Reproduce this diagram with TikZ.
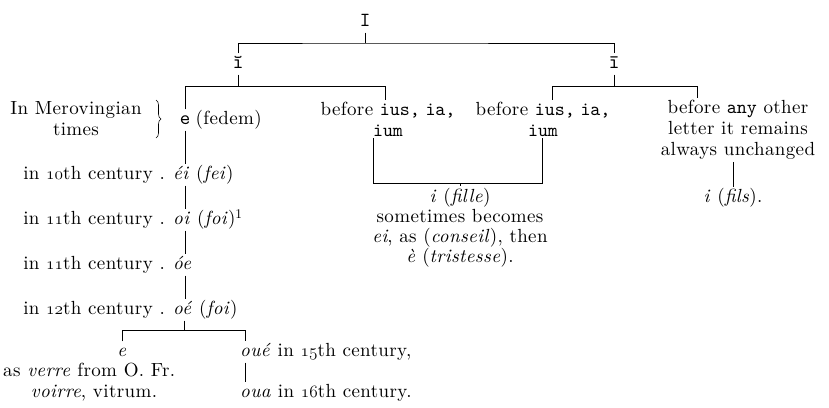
\documentclass[tikz,border=0pt]{standalone}
\usepackage{fontspec}
\setmainfont{lmroman10-regular}[Extension=.otf, ItalicFont=lmroman10-italic, BoldFont=lmroman10-bold, LetterSpace=2]
\setmonofont{lmmono10-regular}[Extension=.otf]
\usetikzlibrary{decorations.pathreplacing}
\newcommand\osn[1]{{\fontencoding{OML}\fontfamily{cmm}\fontseries{m}\fontshape{it}\selectfont #1}}
\newcommand\mt[1]{{\ttfamily #1}}
\begin{document}
\begin{tikzpicture}[x=1pt,y=-1pt,
  tx/.style={font=\fontsize{19}{21}\selectfont, inner sep=2pt, text height=13pt, text depth=4pt},
  ml/.style={font=\fontsize{19}{21}\selectfont, inner sep=2pt, align=center},
  mono/.style={tx, font=\fontsize{20}{21}\selectfont\ttfamily},
  ln/.style={draw, line width=0.6pt},
  brc/.style={draw, line width=0.6pt, decorate, decoration={brace, amplitude=5pt}}]
\useasboundingbox (0,0) rectangle (829,407);

% top level
\node[mono] (I) at (365,22) {I};
\node[mono] (i1) at (238,64) {ĭ};
\node[mono] (i2) at (614,64) {ī};
\coordinate (T) at (365,43);
\draw[ln] (I.south) -- (T);
\draw[ln] (i1.north) |- (T) -| (i2.north);

% second level, left
\node[mono] (e0) at (185,120) {e};
\node[tx, anchor=west] (fed) at ([xshift=1pt]e0.east) {(fedem)};
\node[ml] (b1) at (388,119) {before \mt{ius,}\hspace{0.3em}\mt{ia,}\\\mt{ium}};
\coordinate (L2a) at (185,86);
\coordinate (L2t) at (238,86);
\coordinate (L2b) at (385,86);
\draw[ln] (i1.south) -- (L2t);
\draw[ln] (e0.north) -- (L2a) -- (L2b) -- (L2b |- b1.north);

% second level, right
\node[ml] (b2) at (543,119) {before \mt{ius,}\hspace{0.3em}\mt{ia,}\\\mt{ium}};
\node[ml] (b3) at (738,130) {before \mt{any} other\\letter it remains\\always unchanged};
\coordinate (R2a) at (552,86);
\coordinate (R2t) at (614,86);
\coordinate (R2b) at (697,86);
\draw[ln] (i2.south) -- (R2t);
\draw[ln] (R2a |- b2.north) -- (R2a) -- (R2b) -- (R2b |- b3.north);

% Merovingian
\node[ml] (mer) at (76,119) {In Merovingian\\times};
\coordinate (brA) at (156,100);
\coordinate (brB) at (156,138);
\draw[brc] (brA) -- (brB);

% left column
\node[tx, anchor=east] (l1) at (167,175) {in \osn{10}th century .};
\node[tx, anchor=west] (f1) at (171,175) {\textit{éi} (\textit{fei})};
\node[tx, anchor=east] (l2) at (167,220) {in \osn{11}th century .};
\node[tx, anchor=west] (f2) at (171,220) {\textit{oi} (\textit{foi})\textsuperscript{1}};
\node[tx, anchor=east] (l3) at (167,265) {in \osn{11}th century .};
\node[tx, anchor=west] (f3) at (171,265) {\textit{óe}};
\node[tx, anchor=east] (l4) at (167,310) {in \osn{12}th century .};
\node[tx, anchor=west] (f4) at (171,310) {\textit{oé} (\textit{foi})};
\draw[ln] (e0.south) -- (e0.south |- f1.north);
\draw[ln] (e0.south |- f1.south) -- (e0.south |- f2.north);
\draw[ln] (e0.south |- f2.south) -- (e0.south |- f3.north);
\draw[ln] (e0.south |- f3.south) -- (e0.south |- f4.north);

% bottom branch
\node[tx] (eL) at (122,352) {\textit{e}};
\node[tx, anchor=west] (verre) at (1,372) {as \textit{verre} from O. Fr.};
\node[tx] (voirre) at (94,393) {\textit{voirre}, vitrum.};
\node[tx, anchor=west] (oue) at (238,352) {\textit{oué} in \osn{15}th century,};
\node[tx, anchor=west] (oua) at (238,393) {\textit{oua} in \osn{16}th century.};
\coordinate (bb) at (184,330);
\coordinate (bl) at (122,330);
\coordinate (br) at (245,330);
\draw[ln] (bb |- f4.south) -- (bb);
\draw[ln] (bl |- eL.north) -- (bl) -- (br) -- (br |- oue.north);
\draw[ln] (br |- oue.south) -- (br |- oua.north);

% middle join
\coordinate (s1) at (373,183);
\coordinate (s2) at (542,183);
\coordinate (mb) at (460,183);
\node[ml, font=\fontsize{19}{20}\selectfont] (fille) at (460,228) {\textit{i} (\textit{fille})\\sometimes becomes\\\textit{ei}, as (\textit{conseil}), then\\\textit{è} (\textit{tristesse}).};
\draw[ln] (s1 |- b1.south) -- (s1) -- (s2) -- (s2 |- b2.south);
\draw[ln] (mb) -- (mb |- fille.north);

% right stem
\node[tx] (fils) at (733,198) {\textit{i} (\textit{fils}).};
\coordinate (rs) at (733,160);
\draw[ln] (rs |- b3.south) -- (rs |- fils.north);
\end{tikzpicture}
\end{document}
